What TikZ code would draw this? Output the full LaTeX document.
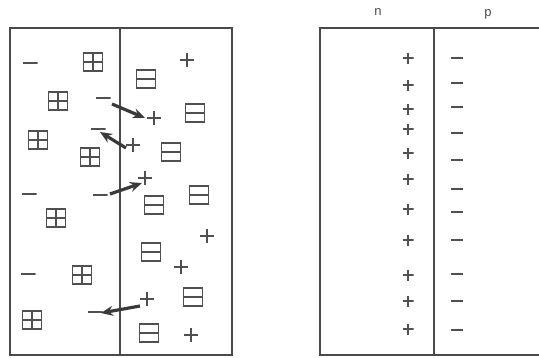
\documentclass[tikz,border=0pt]{standalone}
\usepackage{fontspec}
\newfontfamily\labfont{Liberation Sans}
\usetikzlibrary{arrows.meta}
\definecolor{ink}{HTML}{4A4A4A}
\definecolor{arrink}{HTML}{3A3A3A}
\definecolor{symink}{HTML}{505050}
\tikzset{
  frame/.style={draw=ink, line width=1.3pt},
  sym/.style={draw=symink, line width=1.5pt},
  rsym/.style={draw=symink, line width=2pt},
  plainplus/.style={inner sep=0pt, minimum size=14pt,
    path picture={\draw[sym] (path picture bounding box.west) -- (path picture bounding box.east)
      (path picture bounding box.north) -- (path picture bounding box.south);}},
  plainminus/.style={inner sep=0pt, minimum width=15pt, minimum height=3pt,
    path picture={\draw[sym] (path picture bounding box.west) -- (path picture bounding box.east);}},
  boxplus/.style={draw=symink, line width=1.5pt, inner sep=0pt, minimum width=19pt, minimum height=18pt,
    path picture={\draw[sym] (path picture bounding box.west) -- (path picture bounding box.east)
      (path picture bounding box.north) -- (path picture bounding box.south);}},
  boxminus/.style={draw=symink, line width=1.5pt, inner sep=0pt, minimum width=19pt, minimum height=18pt,
    path picture={\draw[sym] (path picture bounding box.west) -- (path picture bounding box.east);}},
  fixplus/.style={inner sep=0pt, minimum size=11pt,
    path picture={\draw[rsym] (path picture bounding box.west) -- (path picture bounding box.east)
      (path picture bounding box.north) -- (path picture bounding box.south);}},
  fixminus/.style={inner sep=0pt, minimum width=12pt, minimum height=3pt,
    path picture={\draw[rsym] (path picture bounding box.west) -- (path picture bounding box.east);}},
  flow/.style={draw=arrink, line width=3.2pt, -{Stealth[length=12pt,width=10pt]}},
  lab/.style={text=ink, font=\labfont\fontsize{13}{15}\selectfont, inner sep=0pt},
}
\begin{document}
\begin{tikzpicture}[x=1pt,y=-1pt]
\useasboundingbox (0,0) rectangle (539,357);
% left block
\draw[frame] (10,28) rectangle (232,355);
\draw[frame] (120,28) -- (120,355);
% plain minus
\foreach \x/\y [count=\i] in {30/63,103/98,98/129,29/194,100/195,28/274,95/312}
  \node[plainminus] (lm\i) at (\x,\y) {};
% plain plus
\foreach \x/\y [count=\i] in {187/60,154/118,133/145,145/178,207/236,181/267,147/299,191/335}
  \node[plainplus] (lp\i) at (\x,\y) {};
% boxed plus
\foreach \x/\y [count=\i] in {93/62,58/101,38/140,90/157,56/218,82/275,32/320}
  \node[boxplus] (bp\i) at (\x,\y) {};
% boxed minus
\foreach \x/\y [count=\i] in {146/79,195/113,171/152,154/205,199/195,151/252,193/297,149/333}
  \node[boxminus] (bm\i) at (\x,\y) {};
% arrows
\coordinate (t1) at (112,104); \coordinate (h1) at (145,118);
\coordinate (t2) at (126,148); \coordinate (h2) at (100,132);
\coordinate (t3) at (110,194); \coordinate (h3) at (142,183);
\coordinate (t4) at (140,306); \coordinate (h4) at (101,313);
\draw[flow] (t1) -- (h1);
\draw[flow] (t2) -- (h2);
\draw[flow] (t3) -- (h3);
\draw[flow] (t4) -- (h4);
% right block
\draw[frame] (539,28) -- (320,28) -- (320,355) -- (539,355);
\draw[frame] (434,28) -- (434,355);
\node[lab] (nlab) at (378,12) {n};
\node[lab] (plab) at (488,14) {p};
\foreach \y [count=\i] in {58,85,109,129,153,179,209,240,275,301,329}
  \node[fixplus] (rp\i) at (408,\y) {};
\foreach \y [count=\i] in {58,83,107,133,160,189,212,240,274,301,330}
  \node[fixminus] (rm\i) at (457,\y) {};
\end{tikzpicture}
\end{document}
